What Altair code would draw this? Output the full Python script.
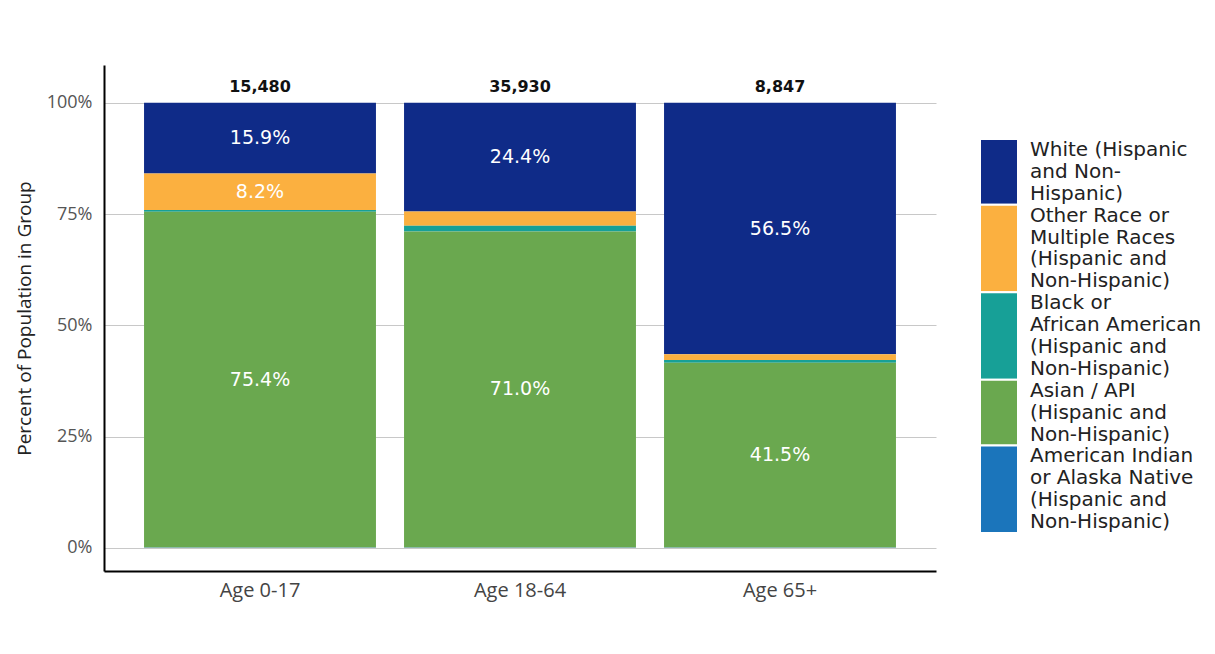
import altair as alt
import pandas as pd

ages = ["Age 0-17", "Age 18-64", "Age 65+"]
totals = [15480, 35930, 8847]
races = [
    "White (Hispanic and Non-Hispanic)",
    "Other Race or Multiple Races (Hispanic and Non-Hispanic)",
    "Black or African American (Hispanic and Non-Hispanic)",
    "Asian / API (Hispanic and Non-Hispanic)",
    "American Indian or Alaska Native (Hispanic and Non-Hispanic)",
]
legend_lines = [
    ["White (Hispanic", "and Non-", "Hispanic)"],
    ["Other Race or", "Multiple Races", "(Hispanic and", "Non-Hispanic)"],
    ["Black or", "African American", "(Hispanic and", "Non-Hispanic)"],
    ["Asian / API", "(Hispanic and", "Non-Hispanic)"],
    ["American Indian", "or Alaska Native", "(Hispanic and", "Non-Hispanic)"],
]
colors = ["#0f2b88", "#fbb040", "#17a097", "#6aa84f", "#1b75bb"]
white_pct = [15.9, 24.4, 56.5]
other_pct = [8.2, 3.2, 1.3]
black_pct = [0.4, 1.3, 0.6]
asian_pct = [75.4, 71.0, 41.5]
amind_pct = [0.1, 0.1, 0.1]
series = [white_pct, other_pct, black_pct, asian_pct, amind_pct]

rows = []
for ri, (race, vals) in enumerate(zip(races, series)):
    for ai, age in enumerate(ages):
        rows.append({"age": age, "race": race, "pct": vals[ai], "order": len(races) - ri})
df = pd.DataFrame(rows)
tot_df = pd.DataFrame({"age": ages, "total": totals, "top": [100] * len(ages)})

color_scale = alt.Scale(domain=races, range=colors)
x_enc = alt.X(
    "age:N",
    sort=ages,
    title=None,
    scale=alt.Scale(paddingInner=0.108, paddingOuter=0.154),
    axis=alt.Axis(labelAngle=0, ticks=False, domainColor="#000", domainWidth=2,
                  labelFont="Open Sans", labelFontSize=20, labelColor="#444",
                  labelPadding=9),
)
y_scale = alt.Scale(domain=[-5.2, 108.5], nice=False, zero=False)

base = alt.Chart(df).transform_stack(
    stack="pct", groupby=["age"], as_=["y0", "y1"], sort=[alt.SortField("order", "ascending")]
).transform_calculate(mid="(datum.y0 + datum.y1) / 2")

bars = base.mark_bar().encode(
    x=x_enc,
    y=alt.Y("y0:Q", scale=y_scale, title="Percent of Population in Group",
            axis=alt.Axis(values=[0, 25, 50, 75, 100], labelExpr="datum.value + '%'",
                          ticks=False, domainColor="#000", domainWidth=2,
                          gridColor="#c8c8c8", gridWidth=1,
                          labelFont="Open Sans", labelFontSize=18, labelColor="#555",
                          labelPadding=12, minExtent=60, maxExtent=60,
                          titleFont="Open Sans", titleFontSize=19, titleFontWeight="normal",
                          titleColor="#222", titlePadding=10)),
    y2="y1:Q",
    color=alt.Color("race:N", scale=color_scale, legend=None),
)

labels = base.transform_filter("datum.pct >= 5").transform_calculate(
    label="format(datum.pct, '.1f') + '%'"
).mark_text(
    font="DejaVu Sans", fontSize=19, color="white", baseline="middle"
).encode(
    x=alt.X("age:N", sort=ages),
    y=alt.Y("mid:Q", scale=y_scale),
    text=alt.Text("label:N"),
)

tot_text = alt.Chart(tot_df).mark_text(
    font="DejaVu Sans", fontSize=16, fontWeight="bold", color="#111", baseline="bottom", dy=-8
).encode(
    x=alt.X("age:N", sort=ages),
    y=alt.Y("top:Q", scale=y_scale),
    text=alt.Text("total:Q", format=","),
)

main = alt.layer(bars, labels, tot_text).properties(width=832, height=506)

# custom legend built from the race / label-line lists
leg_rows = []
txt_rows = []
start = 0
for race, lines in zip(races, legend_lines):
    leg_rows.append({"race": race, "s": start, "e": start + len(lines)})
    for li, line in enumerate(lines):
        txt_rows.append({"line": line, "pos": start + li + 0.5})
    start += len(lines)
leg_df = pd.DataFrame(leg_rows)
txt_df = pd.DataFrame(txt_rows)
leg_scale = alt.Scale(domain=[0, start], range=[74, 468])

leg_rect = alt.Chart(leg_df).mark_rect(stroke="white", strokeWidth=2).encode(
    x=alt.value(0), x2=alt.value(38),
    y=alt.Y("s:Q", scale=leg_scale, axis=None),
    y2="e:Q",
    color=alt.Color("race:N", scale=color_scale, legend=None),
)
leg_text = alt.Chart(txt_df).mark_text(
    font="DejaVu Sans", fontSize=20, color="#222", align="left", baseline="middle"
).encode(
    x=alt.value(50),
    y=alt.Y("pos:Q", scale=leg_scale, axis=None),
    text="line:N",
)
legend = alt.layer(leg_rect, leg_text).properties(width=226, height=506)

chart = alt.hconcat(main, legend, spacing=43).properties(
    padding={"left": 7, "top": 57, "right": 0, "bottom": 5},
    background="white",
).configure_view(strokeWidth=0)

chart.save("out.html", embed_options={"renderer": "svg", "actions": False})
